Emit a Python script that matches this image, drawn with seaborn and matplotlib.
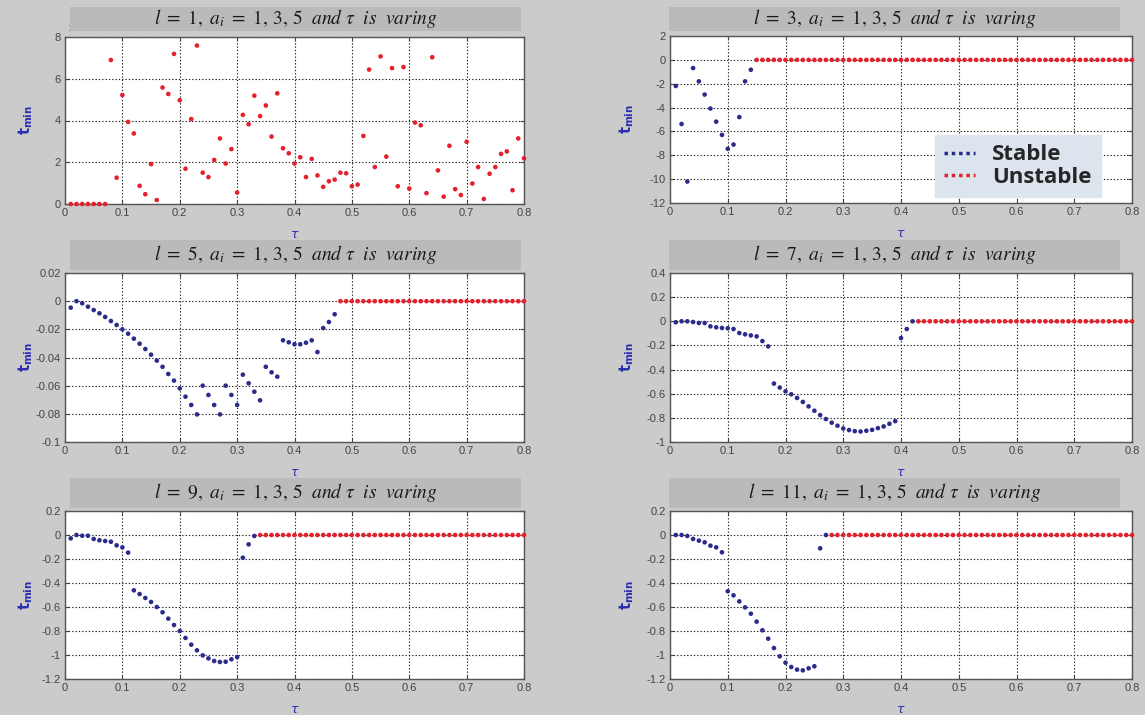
import numpy as np
import pandas as pd
import matplotlib
matplotlib.use("Agg")
import matplotlib.pyplot as plt
from matplotlib.lines import Line2D
from matplotlib.patches import Rectangle
from matplotlib.ticker import FuncFormatter, MultipleLocator
import seaborn as sns

# ---- data: minimum t for each delay value tau ----
tau = np.arange(1, 81) / 100.0

# l = 1 : every point is unstable
l1_unstable = [0.0, 0.0, 0.0, 0.0, 0.0, 0.0, 0.0, 6.9, 1.26, 5.22,
               3.93, 3.38, 0.87, 0.47, 1.91, 0.19, 5.58, 5.27, 7.19, 4.97,
               1.69, 4.07, 7.59, 1.50, 1.29, 2.11, 3.14, 1.94, 2.63, 0.55,
               4.27, 3.82, 5.19, 4.21, 4.72, 3.23, 5.30, 2.67, 2.43, 1.94,
               2.24, 1.29, 2.16, 1.37, 0.82, 1.09, 1.17, 1.50, 1.47, 0.85,
               0.93, 3.26, 6.44, 1.77, 7.07, 2.27, 6.51, 0.85, 6.56, 0.74,
               3.90, 3.77, 0.52, 7.03, 1.61, 0.35, 2.79, 0.71, 0.43, 2.98,
               0.98, 1.77, 0.24, 1.45, 1.77, 2.40, 2.52, 0.66, 3.14, 2.19]
l1_stable = []

l3_stable = [-2.19, -5.38, -10.2, -0.69, -1.80, -2.91, -4.08, -5.18, -6.29, -7.46,
             -7.10, -4.80, -1.80, -0.83]
l3_unstable = [0.0] * 66

l5_stable = [-0.0046, 0.0, -0.0015, -0.0039, -0.0063, -0.0086, -0.0112, -0.0141, -0.0169, -0.0200,
             -0.0231, -0.0266, -0.0302, -0.0340, -0.0380, -0.0422, -0.0466, -0.0517, -0.0564, -0.0619,
             -0.0678, -0.0737, -0.0804, -0.0600, -0.0666, -0.0737, -0.0804, -0.0600, -0.0666, -0.0737,
             -0.0522, -0.0583, -0.0643, -0.0704, -0.0466, -0.0505, -0.0536, -0.0278, -0.0292, -0.0306,
             -0.0306, -0.0295, -0.0278, -0.0361, -0.0191, -0.0148, -0.0093]
l5_unstable = [0.0] * 33

l7_stable = [-0.008, 0.0, 0.0, -0.006, -0.014, -0.014, -0.042, -0.050, -0.055, -0.058,
             -0.064, -0.097, -0.108, -0.117, -0.125, -0.164, -0.208, -0.516, -0.549, -0.580,
             -0.605, -0.635, -0.668, -0.705, -0.741, -0.777, -0.810, -0.840, -0.865, -0.888,
             -0.901, -0.910, -0.913, -0.907, -0.899, -0.885, -0.871, -0.849, -0.827, -0.139,
             -0.064, 0.0]
l7_unstable = [0.0] * 38

l9_stable = [-0.028, 0.0, -0.006, -0.006, -0.033, -0.044, -0.050, -0.056, -0.086, -0.103,
             -0.147, -0.461, -0.492, -0.525, -0.558, -0.600, -0.644, -0.697, -0.750, -0.800,
             -0.858, -0.914, -0.961, -1.003, -1.028, -1.050, -1.058, -1.056, -1.036, -1.017,
             -0.189, -0.078, -0.008]
l9_unstable = [0.0] * 47

l11_stable = [0.0, 0.0, -0.008, -0.033, -0.047, -0.061, -0.089, -0.103, -0.144, -0.469,
              -0.503, -0.553, -0.603, -0.656, -0.722, -0.794, -0.864, -0.942, -1.011, -1.064,
              -1.100, -1.122, -1.128, -1.111, -1.094, -0.111, 0.0]
l11_unstable = [0.0] * 53

panel_l = [1, 3, 5, 7, 9, 11]
panel_stable = [l1_stable, l3_stable, l5_stable, l7_stable, l9_stable, l11_stable]
panel_unstable = [l1_unstable, l3_unstable, l5_unstable, l7_unstable, l9_unstable, l11_unstable]
panel_ylim = [(0, 8), (-12, 2), (-0.1, 0.02), (-1, 0.4), (-1.2, 0.2), (-1.2, 0.2)]
panel_ystep = [2, 2, 0.02, 0.2, 0.2, 0.2]
legend_labels = ["Stable", "Unstable"]

# ---- styling ----
BG = "#cbcbcb"
BOX = "#bababa"
BLUE = "#2a2c8c"
RED = "#e3202b"
LABEL_BLUE = "#2b2fb0"

sns.set_theme(style="white")
plt.rcParams["font.family"] = ["Liberation Sans", "DejaVu Sans"]
plt.rcParams["mathtext.fontset"] = "stix"

W, H = 1145, 715
fig = plt.figure(figsize=(W / 100, H / 100), dpi=100, facecolor=BG)

# pixel frames of the six panels (left, right) x (top, bottom)
col_x = [(65, 524), (670, 1132)]
row_y = [[(37, 204), (36, 203)], [(273, 442), (273, 442)], [(511, 679), (511, 679)]]
box_x = [(70, 521), (669, 1120)]
box_y = [(7, 31), (240, 270), (478, 508)]
ylabel_off = [-30, -34]


def fmt(v, _):
    v = round(v, 4)
    if abs(v) < 1e-9:
        return "0"
    return f"{v:g}"


for i in range(6):
    r, c = divmod(i, 2)
    x0, x1 = col_x[c]
    y0, y1 = row_y[r][c]
    ax = fig.add_axes([x0 / W, 1 - y1 / H, (x1 - x0) / W, (y1 - y0) / H])
    ax.set_facecolor("white")

    stable = panel_stable[i]
    unstable = panel_unstable[i]
    n_s = len(stable)
    df = pd.DataFrame({
        "tau": tau,
        "tmin": list(stable) + list(unstable),
        "state": ["Stable"] * n_s + ["Unstable"] * len(unstable),
    })
    sns.scatterplot(data=df, x="tau", y="tmin", hue="state",
                    palette={"Stable": BLUE, "Unstable": RED},
                    s=11, linewidth=0, legend=False, ax=ax, clip_on=False, zorder=3)

    ax.set_xlim(0, 0.8)
    ax.set_ylim(*panel_ylim[i])
    ax.xaxis.set_major_locator(MultipleLocator(0.1))
    ax.yaxis.set_major_locator(MultipleLocator(panel_ystep[i]))
    ax.xaxis.set_major_formatter(FuncFormatter(fmt))
    ax.yaxis.set_major_formatter(FuncFormatter(fmt))
    ax.grid(True, color="#222222", linestyle=(0, (1.2, 1.8)), linewidth=0.8)
    ax.set_axisbelow(True)
    for sp in ax.spines.values():
        sp.set_color("#555555")
        sp.set_linewidth(1.0)
    ax.tick_params(direction="in", length=3, width=0.8, colors="#444444",
                   labelsize=8, pad=3, top=True, right=True,
                   bottom=True, left=True)

    ax.set_xlabel(r"$\tau$", color=LABEL_BLUE, fontsize=9, math_fontfamily="dejavusans")
    ax.xaxis.set_label_coords(0.5, -25 / (y1 - y0))
    ax.set_ylabel(r"$\mathbf{t}_{\mathbf{min}}$", color=LABEL_BLUE, fontsize=10.5,
                  math_fontfamily="dejavusans")
    ax.yaxis.set_label_coords(ylabel_off[c] / (x1 - x0), 0.5)

    # title banner
    bx0, bx1 = box_x[c]
    by0, by1 = box_y[r]
    fig.patches.append(Rectangle((bx0 / W, 1 - by1 / H), (bx1 - bx0) / W, (by1 - by0) / H,
                                 transform=fig.transFigure, facecolor=BOX,
                                 edgecolor="none", zorder=0))
    fig.text((bx0 + bx1) / 2 / W, 1 - (by0 + by1) / 2 / H,
             rf"$l\ =\ {panel_l[i]},\ a_i\ =\ 1,\,3,\,5\ \ and\ \tau\ \ is\ \ varing$",
             ha="center", va="center", fontsize=14, color="#1a1a1a")

    if i == 0:
        ax.text(0.008, 1.055, "x", transform=ax.transAxes, fontsize=7,
                color="#555555", ha="left", va="center")

    if i == 1:
        handles = [Line2D([], [], color=BLUE, linestyle=(0, (1, 1.1)), linewidth=2.5),
                   Line2D([], [], color=RED, linestyle=(0, (1, 1.1)), linewidth=2.5)]
        leg = fig.legend(handles, legend_labels, loc="upper left",
                         bbox_to_anchor=(935 / W, 1 - 135 / H),
                         bbox_transform=fig.transFigure, borderaxespad=0,
                         frameon=True, fancybox=False, facecolor="#dce4ee",
                         edgecolor="#dce4ee", framealpha=1,
                         prop={"family": "Open Sans", "weight": "bold", "size": 16},
                         handlelength=1.4, handletextpad=0.75, labelspacing=0.08,
                         borderpad=0.42)
        leg.set_zorder(10)

fig.savefig("out.png", dpi=100, facecolor=BG)
